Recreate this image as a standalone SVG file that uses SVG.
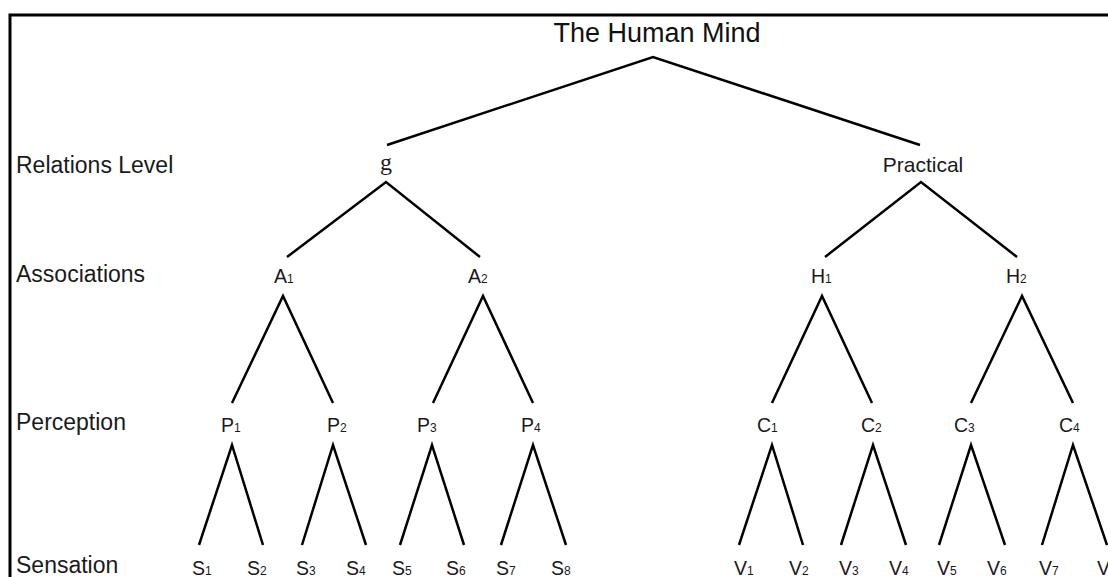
<svg xmlns="http://www.w3.org/2000/svg" width="1108" height="577" viewBox="0 0 1108 577">
<style>
.lvl{font-family:"Liberation Sans",Arial,sans-serif;font-size:23px;fill:#1a1a1a}
.nd{font-family:"Liberation Sans",Arial,sans-serif;font-size:19.5px;fill:#1a1a1a}
.sub{font-size:12px}
.title{font-family:"Liberation Sans",Arial,sans-serif;font-size:27px;fill:#111}
.edge{stroke:#000;stroke-width:2.5;fill:none;stroke-linecap:butt}
</style>
<rect width="1108" height="577" fill="#fff"/>
<path d="M10,600 L10,15 L1120,15" fill="none" stroke="#000" stroke-width="3"/>
<g id="level-labels">
<text class="lvl" x="16" y="173">Relations Level</text>
<text class="lvl" x="16" y="282">Associations</text>
<text class="lvl" x="16" y="430">Perception</text>
<text class="lvl" x="16" y="573">Sensation</text>
</g>
<g id="connectors">
<path class="edge" d="M387,145 L653,57 L920,145"/>
<path class="edge" d="M287,257 L386,182 L480,257"/>
<path class="edge" d="M825,257 L921,182 L1017,257"/>
<path class="edge" d="M232,403 L283,296 L333,403"/>
<path class="edge" d="M433,403 L483,296 L533,403"/>
<path class="edge" d="M772,403 L822,296 L872,403"/>
<path class="edge" d="M971,403 L1022,296 L1073,403"/>
<path class="edge" d="M199,545 L232,445 L263,545"/>
<path class="edge" d="M302,545 L333,445 L366,545"/>
<path class="edge" d="M400,545 L432,445 L464,545"/>
<path class="edge" d="M501,545 L533,445 L566,545"/>
<path class="edge" d="M739,545 L772,445 L803,545"/>
<path class="edge" d="M841,545 L873,445 L906,545"/>
<path class="edge" d="M939,545 L971,445 L1005,545"/>
<path class="edge" d="M1042,545 L1073,445 L1107,545"/>
</g>
<g id="root"><text class="title" x="657" y="42" text-anchor="middle">The Human Mind</text></g>
<g id="g"><text x="386" y="170" text-anchor="middle" style="font-family:'Liberation Serif','Times New Roman',serif;font-size:24px;fill:#1a1a1a">g</text></g>
<g id="practical"><text class="nd" x="923" y="172" text-anchor="middle" style="font-size:21px">Practical</text></g>
<g id="A1"><text class="nd" x="274" y="283">A<tspan class="sub">1</tspan></text></g>
<g id="A2"><text class="nd" x="468" y="283">A<tspan class="sub">2</tspan></text></g>
<g id="H1"><text class="nd" x="811" y="283">H<tspan class="sub">1</tspan></text></g>
<g id="H2"><text class="nd" x="1006" y="283">H<tspan class="sub">2</tspan></text></g>
<g id="P1"><text class="nd" x="221" y="432">P<tspan class="sub">1</tspan></text></g>
<g id="P2"><text class="nd" x="327" y="432">P<tspan class="sub">2</tspan></text></g>
<g id="P3"><text class="nd" x="417" y="432">P<tspan class="sub">3</tspan></text></g>
<g id="P4"><text class="nd" x="521" y="432">P<tspan class="sub">4</tspan></text></g>
<g id="C1"><text class="nd" x="757" y="432">C<tspan class="sub">1</tspan></text></g>
<g id="C2"><text class="nd" x="861" y="432">C<tspan class="sub">2</tspan></text></g>
<g id="C3"><text class="nd" x="954" y="432">C<tspan class="sub">3</tspan></text></g>
<g id="C4"><text class="nd" x="1059" y="432">C<tspan class="sub">4</tspan></text></g>
<g id="S1"><text class="nd" x="192" y="575">S<tspan class="sub">1</tspan></text></g>
<g id="S2"><text class="nd" x="247" y="575">S<tspan class="sub">2</tspan></text></g>
<g id="S3"><text class="nd" x="296" y="575">S<tspan class="sub">3</tspan></text></g>
<g id="S4"><text class="nd" x="346" y="575">S<tspan class="sub">4</tspan></text></g>
<g id="S5"><text class="nd" x="392" y="575">S<tspan class="sub">5</tspan></text></g>
<g id="S6"><text class="nd" x="446" y="575">S<tspan class="sub">6</tspan></text></g>
<g id="S7"><text class="nd" x="496" y="575">S<tspan class="sub">7</tspan></text></g>
<g id="S8"><text class="nd" x="551" y="575">S<tspan class="sub">8</tspan></text></g>
<g id="V1"><text class="nd" x="734" y="575">V<tspan class="sub">1</tspan></text></g>
<g id="V2"><text class="nd" x="789" y="575">V<tspan class="sub">2</tspan></text></g>
<g id="V3"><text class="nd" x="839" y="575">V<tspan class="sub">3</tspan></text></g>
<g id="V4"><text class="nd" x="889" y="575">V<tspan class="sub">4</tspan></text></g>
<g id="V5"><text class="nd" x="937" y="575">V<tspan class="sub">5</tspan></text></g>
<g id="V6"><text class="nd" x="987" y="575">V<tspan class="sub">6</tspan></text></g>
<g id="V7"><text class="nd" x="1039" y="575">V<tspan class="sub">7</tspan></text></g>
<g id="V8"><text class="nd" x="1097" y="575">V<tspan class="sub">8</tspan></text></g>
</svg>
